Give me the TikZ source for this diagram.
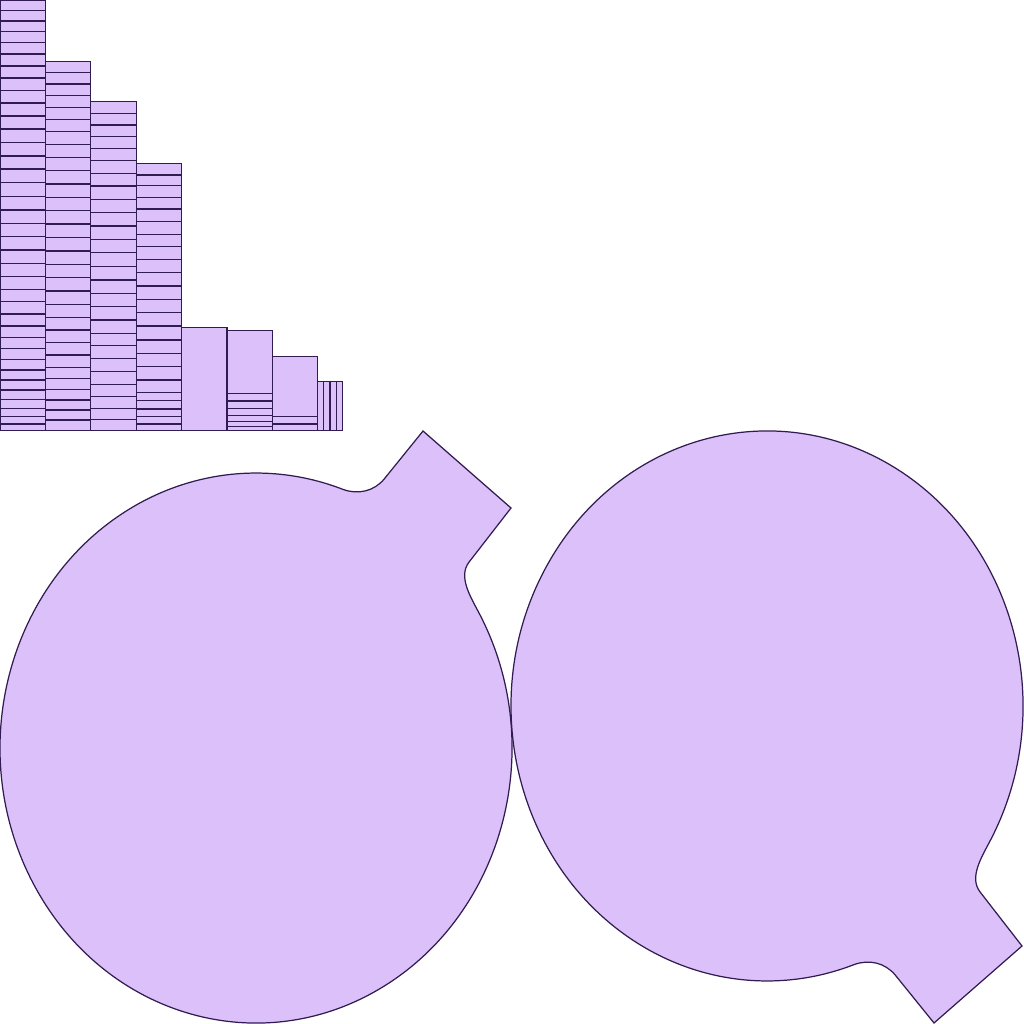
\documentclass[tikz,border=0pt]{standalone}
\definecolor{piececol}{RGB}{220,192,250}
\definecolor{edgecol}{RGB}{48,28,80}

% outline of one disc with its tab (pixel units, y downwards)
\newcommand{\discoutline}{(478.6,612.2)
  arc[start angle=-29.6, end angle=289.9, x radius=256, y radius=275]
  .. controls (358,494.8) and (373.9,491.4) .. (384.2,479)
  -- (423,431) -- (511,508) -- (469.1,562)
  .. controls (458,576.2) and (470.1,596.1) .. cycle}

\begin{document}
\begin{tikzpicture}[
  x=0.1mm, y=-0.1mm,
  piece/.style={fill=piececol, draw=edgecol, line width=0.35pt},
  cut/.style={draw=edgecol, line width=0.35pt}
]
\useasboundingbox (0,0) rectangle (1024,1024);

% ---------------- strips, top left ----------------
\draw[piece] (0,0) rectangle (45.4,430.5);
\foreach \y in {10.7,21,31.7,42.7,54,66,78,90.7,103,116,129,142.7,156,169,182.7,196.7,210,223.3,236.7,250,263.3,276.7,289.3,301.7,314,326,337.3,348.3,359.3,370,380,390,399.3,408.3,416.7,424}
  \draw[cut] (0,\y) -- (45.4,\y);

\draw[piece] (45.4,61.7) rectangle (90.8,430.5);
\foreach \y in {72.3,84,95.7,107.3,119.3,131.7,144.3,157.3,170.7,184,197.3,210.7,224,237.3,251,264.3,277.7,291,304.3,317.3,330,342.7,355,367.3,378.3,389.3,400,410,420}
  \draw[cut] (45.4,\y) -- (90.8,\y);

\draw[piece] (90.8,101.7) rectangle (136.2,430.5);
\foreach \y in {113.3,125,136.7,148.3,160.7,173.3,186,199.3,212.7,226,239.3,252.7,266.7,280,293.3,306.7,320,333.3,345.7,358.3,371.7,384.3,396.7,408.3,419.3}
  \draw[cut] (90.8,\y) -- (136.2,\y);

\draw[piece] (136.2,163.3) rectangle (181.6,430.5);
\foreach \y in {175,185.7,197.3,209,221.7,234.3,246.7,259.3,272.7,286,299.3,312.7,326,340,353.3,366.7,380,392.7,400.7,409,416.7,424}
  \draw[cut] (136.2,\y) -- (181.6,\y);

\draw[piece] (181.6,327.3) rectangle (227,430.5);

\draw[piece] (227,330.7) rectangle (272.4,430.5);
\foreach \y in {393.3,401,408.7,415.7,421.7,426.7}
  \draw[cut] (227,\y) -- (272.4,\y);

\draw[piece] (272.4,356.7) rectangle (317.8,430.5);
\foreach \y in {416.7,424}
  \draw[cut] (272.4,\y) -- (317.8,\y);

\draw[piece] (317.8,381.3) rectangle (342.7,430.5);
\foreach \x in {323.3,330,336.7}
  \draw[cut] (\x,381.3) -- (\x,430.5);

% ---------------- two discs ----------------
\draw[piece] \discoutline;
\begin{scope}[shift={(511,1454)}, yscale=-1]
  \draw[piece] \discoutline;
\end{scope}

\end{tikzpicture}
\end{document}
